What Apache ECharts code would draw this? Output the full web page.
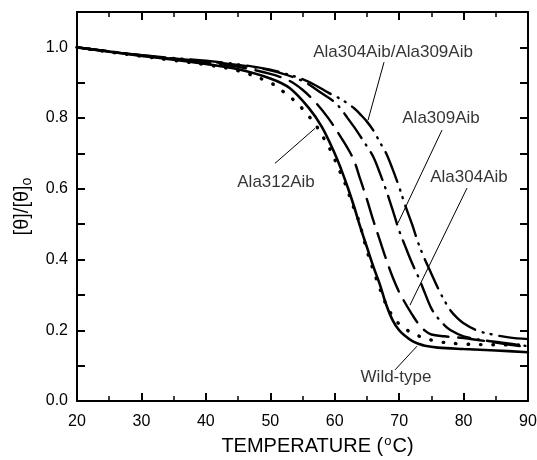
<!DOCTYPE html>
<html>
<head>
<meta charset="utf-8">
<title>Thermal unfolding</title>
<script src="https://cdn.jsdelivr.net/npm/echarts@6/dist/echarts.min.js"></script>
<style>
  html, body { margin: 0; padding: 0; background: #fff; }
  #chart { width: 537px; height: 460px; }
</style>
</head>
<body>
<div id="chart"></div>
<script>
// Normalised ellipticity [θ]/[θ]o versus temperature (°C) for each variant
const wildType = [
  [20, 1.000], [25, 0.988], [30, 0.976], [35, 0.965], [40, 0.953], [45, 0.938],
  [50, 0.912], [53, 0.885], [56, 0.828], [58, 0.775], [60, 0.700], [61, 0.655],
  [62, 0.605], [63, 0.550], [64, 0.490], [65, 0.435], [66, 0.380], [67, 0.330],
  [68, 0.272], [69, 0.228], [70, 0.200], [71, 0.183], [72, 0.170], [73, 0.162],
  [74, 0.156], [76, 0.151], [80, 0.147], [85, 0.143], [90, 0.138]
];
const ala312Aib = [
  [20, 1.000], [25, 0.987], [30, 0.975], [35, 0.963], [40, 0.951], [45, 0.934],
  [50, 0.900], [52, 0.875], [54, 0.845], [56, 0.805], [57.4, 0.771], [58.5, 0.737],
  [59.6, 0.700], [60.5, 0.661], [61.3, 0.630], [62.1, 0.590], [62.8, 0.554],
  [63.6, 0.517], [64.2, 0.480], [65, 0.425], [66, 0.370], [67, 0.318], [68, 0.272],
  [69, 0.240], [70, 0.218], [72, 0.192], [74, 0.178], [76, 0.168], [80, 0.161],
  [85, 0.159], [90, 0.158]
];
const ala304Aib = [
  [20, 1.000], [25, 0.988], [30, 0.977], [35, 0.967], [40, 0.957], [45, 0.945],
  [50, 0.925], [53, 0.905], [55, 0.880], [57, 0.845], [59, 0.800], [61, 0.745],
  [62, 0.715], [63, 0.680], [64, 0.625], [65, 0.570], [66, 0.510], [67, 0.455],
  [68, 0.400], [69, 0.350], [70, 0.308], [71, 0.275], [72, 0.245], [73, 0.218],
  [74, 0.199], [75, 0.188], [77, 0.183], [80, 0.178], [85, 0.165], [90, 0.152]
];
const ala309Aib = [
  [20, 1.000], [30, 0.978], [40, 0.960], [45, 0.950], [50, 0.935], [55, 0.905],
  [58, 0.870], [60, 0.845], [61, 0.825], [62, 0.800], [63, 0.775], [64, 0.748],
  [65, 0.720], [66, 0.690], [67, 0.645], [68, 0.595], [69, 0.540], [70, 0.482],
  [71, 0.435], [72, 0.390], [73, 0.350], [74, 0.305], [75, 0.262], [76, 0.235],
  [77, 0.215], [78, 0.200], [80, 0.183], [83, 0.172], [86, 0.165], [90, 0.155]
];
const ala304Ala309Aib = [
  [20, 1.000], [30, 0.978], [40, 0.962], [45, 0.952], [50, 0.937], [53, 0.922],
  [55, 0.910], [57, 0.893], [59, 0.872], [61, 0.853], [63, 0.828], [64, 0.810],
  [65, 0.790], [66, 0.765], [67, 0.732], [68, 0.700], [69, 0.655], [70, 0.605],
  [71, 0.550], [72, 0.500], [73, 0.445], [74, 0.400], [75, 0.360], [76, 0.320],
  [77, 0.285], [78, 0.255], [79, 0.235], [80, 0.220], [82, 0.200], [84, 0.190],
  [87, 0.180], [90, 0.175]
];

// Curve annotations: text anchor and leader line (data coordinates)
const annotationNames = ['Ala304Aib/Ala309Aib', 'Ala309Aib', 'Ala304Aib', 'Ala312Aib', 'Wild-type'];
const annotationAnchors = [[69.05, 0.986], [76.5, 0.799], [80.84, 0.633], [50.89, 0.619], [69.51, 0.068]];
const leaderLines = [
  [[67.65, 0.958], [65.17, 0.794]],
  [[76.65, 0.766], [69.82, 0.503]],
  [[80.53, 0.602], [71.68, 0.271]],
  [[50.73, 0.672], [56.94, 0.771]],
  [[69.36, 0.088], [72.77, 0.155]]
];

const FONT = "'Liberation Sans', Arial, Helvetica, sans-serif";

function curve(name, data, type, width) {
  return {
    name: name,
    type: 'line',
    data: data,
    smooth: 0.35,
    symbol: 'none',
    silent: true,
    lineStyle: { color: '#000', width: width, type: type, cap: 'round' },
    z: 3
  };
}

const tickAxisCommon = {
  type: 'value',
  splitLine: { show: false },
  axisLine: { show: true, onZero: false, lineStyle: { color: '#000', width: 2 } },
  axisTick: { show: true, inside: true, length: 8, lineStyle: { color: '#000', width: 2 } }
};

const chart = echarts.init(document.getElementById('chart'), null, { renderer: 'canvas' });

chart.setOption({
  backgroundColor: '#fff',
  animation: false,
  textStyle: { fontFamily: FONT, color: '#000' },
  grid: { left: 77, right: 9, top: 12, bottom: 59, containLabel: false, outerBoundsMode: 'none' },
  xAxis: [
    Object.assign({}, tickAxisCommon, {
      min: 20, max: 90, interval: 10, position: 'bottom',
      minorTick: { show: true, splitNumber: 2, length: 5, lineStyle: { color: '#000', width: 1.5 } },
      axisLabel: { fontSize: 16, color: '#000', margin: 13, fontFamily: FONT },
      name: '{a|TEMPERATURE (}{s|o}{a|C)}',
      nameLocation: 'middle',
      nameGap: 28,
      nameTextStyle: {
        padding: [0, 0, 0, 30],
        rich: {
          a: { fontSize: 20, fontFamily: FONT, color: '#000', lineHeight: 24 },
          s: { fontSize: 13, fontFamily: FONT, color: '#000', verticalAlign: 'top', lineHeight: 24, padding: [0, 1, 0, 1] }
        }
      }
    }),
    Object.assign({}, tickAxisCommon, {
      min: 20, max: 90, interval: 10, position: 'top',
      minorTick: { show: true, splitNumber: 2, length: 5, lineStyle: { color: '#000', width: 1.5 } },
      axisLabel: { show: false }
    })
  ],
  yAxis: [
    Object.assign({}, tickAxisCommon, {
      min: 0, max: 1.1, interval: 0.1, position: 'left',
      axisLabel: {
        fontSize: 16, color: '#000', margin: 9, fontFamily: FONT,
        formatter: function (v) {
          const k = Math.round(v * 10);
          return (k % 2 === 0 && k <= 10) ? (k / 10).toFixed(1) : '';
        }
      },
      name: '{a|[θ]/[θ]}{b|o}',
      nameLocation: 'middle',
      nameRotate: 90,
      nameGap: 43,
      nameTextStyle: {
        rich: {
          a: { fontSize: 20, fontFamily: FONT, color: '#000', lineHeight: 24 },
          b: { fontSize: 14, fontFamily: FONT, color: '#000', verticalAlign: 'bottom', lineHeight: 24 }
        }
      }
    }),
    Object.assign({}, tickAxisCommon, {
      min: 0, max: 1.1, interval: 0.1, position: 'right',
      axisLabel: { show: false }
    })
  ],
  series: [
    curve('Wild-type', wildType, 'solid', 2.6),
    curve('Ala312Aib', ala312Aib, [0.5, 12], 3.4),
    curve('Ala304Aib', ala304Aib, [26, 10], 2.4),
    curve('Ala309Aib', ala309Aib, [30, 8, 1, 8], 2.4),
    curve('Ala304Aib/Ala309Aib', ala304Ala309Aib, [32, 8, 1, 7, 1, 8], 2.4),
    {
      type: 'lines',
      coordinateSystem: 'cartesian2d',
      silent: true,
      lineStyle: { color: '#000', width: 1, opacity: 1 },
      data: leaderLines.map(function (c) { return { coords: c }; }),
      z: 4
    },
    {
      type: 'scatter',
      silent: true,
      symbolSize: 0,
      data: annotationAnchors.map(function (p, i) { return [p[0], p[1], annotationNames[i]]; }),
      label: {
        show: true,
        position: 'inside',
        fontSize: 17,
        fontFamily: FONT,
        color: '#000',
        formatter: function (p) { return p.value[2]; }
      },
      z: 5
    }
  ]
});
</script>
</body>
</html>
